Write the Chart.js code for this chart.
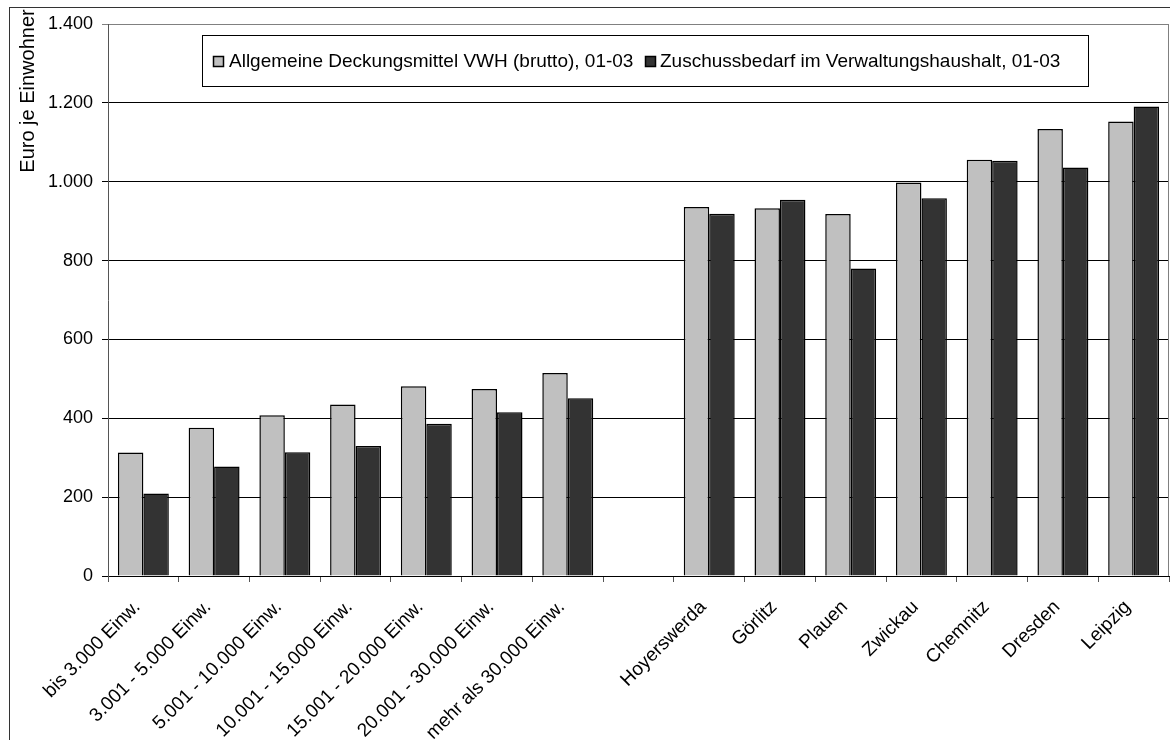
<!DOCTYPE html>
<html>
<head>
<meta charset="utf-8">
<style>
  html, body { margin: 0; padding: 0; background: #fff; }
  #wrap { width: 1170px; height: 740px; }
</style>
<script src="https://cdn.jsdelivr.net/npm/chart.js@4.4.1/dist/chart.umd.min.js"></script>
</head>
<body>
<div id="wrap"><canvas id="c" width="1170" height="740"></canvas></div>
<script>
// Größenklassen der Gemeinden, Lücke, kreisfreie Städte
const categories = [
  'bis 3.000 Einw.', '3.001 - 5.000 Einw.', '5.001 - 10.000 Einw.',
  '10.001 - 15.000 Einw.', '15.001 - 20.000 Einw.', '20.001 - 30.000 Einw.',
  'mehr als 30.000 Einw.', '',
  'Hoyerswerda', 'Görlitz', 'Plauen', 'Zwickau', 'Chemnitz', 'Dresden', 'Leipzig'
];
// Euro je Einwohner, Durchschnitt 2001-2003
const deckungsmittel = [313, 376, 408, 435, 481, 474, 515, null, 936, 933, 918, 998, 1056, 1134, 1153];
const zuschussbedarf = [209, 278, 314, 330, 386, 415, 451, null, 919, 954, 780, 958, 1053, 1036, 1191];
const seriesLabels = [
  'Allgemeine Deckungsmittel VWH (brutto), 01-03',
  'Zuschussbedarf im Verwaltungshaushalt, 01-03'
];
const seriesColors = ['#c0c0c0', '#333333'];
const yTicks = [0, 200, 400, 600, 800, 1000, 1200, 1400];
const axisTitle = 'Euro je Einwohner';

const FONT = "'Liberation Sans', Arial, sans-serif";

function formatDe(v) {
  return String(v).replace(/\B(?=(\d{3})+(?!\d))/g, '.');
}

// Rahmen, Achsentitel, Plotrand und Legendenkasten
const decor = {
  id: 'decor',
  beforeDraw(chart) {
    const ctx = chart.ctx;
    ctx.save();
    ctx.fillStyle = '#fff';
    ctx.fillRect(0, 0, chart.width, chart.height);
    ctx.strokeStyle = '#333';
    ctx.lineWidth = 1;
    ctx.strokeRect(9.5, 7.5, chart.width + 50, chart.height + 50);
    ctx.restore();
  },
  afterDraw(chart) {
    const ctx = chart.ctx;
    const a = chart.chartArea;
    ctx.save();
    // rechter Plotrand
    ctx.strokeStyle = '#808080';
    ctx.lineWidth = 1;
    ctx.beginPath();
    ctx.moveTo(Math.round(a.right) - 0.5, a.top);
    ctx.lineTo(Math.round(a.right) - 0.5, a.bottom);
    ctx.stroke();

    // Achsentitel
    ctx.fillStyle = '#000';
    ctx.font = '20px ' + FONT;
    ctx.translate(28, 91);
    ctx.rotate(-Math.PI / 2);
    ctx.textAlign = 'center';
    ctx.textBaseline = 'middle';
    ctx.fillText(axisTitle, 0, 0);
    ctx.restore();

    // Legende
    ctx.save();
    ctx.fillStyle = '#fff';
    ctx.fillRect(202, 35, 887, 52);
    ctx.strokeStyle = '#000';
    ctx.lineWidth = 1;
    ctx.strokeRect(202.5, 35.5, 886, 51);
    const items = [{ mx: 213, tx: 229 }, { mx: 645, tx: 660 }];
    ctx.font = '19px ' + FONT;
    ctx.textBaseline = 'middle';
    ctx.textAlign = 'left';
    chart.data.datasets.forEach((ds, i) => {
      const it = items[i];
      ctx.fillStyle = ds.backgroundColor;
      ctx.fillRect(it.mx, 56, 11, 11);
      ctx.strokeStyle = '#000';
      ctx.lineWidth = 1.5;
      ctx.strokeRect(it.mx + 0.5, 56.5, 10, 10);
      ctx.fillStyle = '#000';
      ctx.fillText(ds.label, it.tx, 62);
    });
    ctx.restore();
  }
};

new Chart(document.getElementById('c'), {
  type: 'bar',
  data: {
    labels: categories,
    datasets: [
      {
        label: seriesLabels[0], data: deckungsmittel,
        backgroundColor: seriesColors[0], borderColor: '#000', borderWidth: 1.5,
        categoryPercentage: 0.72, barPercentage: 1.0
      },
      {
        label: seriesLabels[1], data: zuschussbedarf,
        backgroundColor: seriesColors[1], borderColor: '#000', borderWidth: 1.5,
        categoryPercentage: 0.72, barPercentage: 1.0
      }
    ]
  },
  options: {
    responsive: false,
    animation: false,
    devicePixelRatio: 1,
    layout: { padding: { left: 0, top: 24, right: 1, bottom: 0 } },
    plugins: {
      legend: { display: false },
      tooltip: { enabled: false },
      title: { display: false }
    },
    scales: {
      x: {
        offset: true,
        grid: {
          offset: true, drawOnChartArea: false, drawTicks: true,
          tickLength: 6, color: '#555'
        },
        border: { display: true, color: '#000' },
        ticks: {
          color: '#000', font: { family: FONT, size: 19 },
          minRotation: 45, maxRotation: 45, autoSkip: false,
          padding: 14, labelOffset: -6
        },
        afterFit(scale) { scale.height = 164; }
      },
      y: {
        min: yTicks[0], max: yTicks[yTicks.length - 1],
        afterBuildTicks(scale) { scale.ticks = yTicks.map(v => ({ value: v })); },
        grid: {
          color: (c) => (c.tick && c.tick.value === 1400 ? '#808080' : '#000'),
          tickLength: 6, lineWidth: 1
        },
        border: { display: true, color: '#555' },
        ticks: {
          color: '#000', font: { family: FONT, size: 18 }, padding: 9,
          callback: (v) => formatDe(v)
        },
        afterFit(scale) { scale.width = 108; }
      }
    }
  },
  plugins: [decor]
});
</script>
</body>
</html>
